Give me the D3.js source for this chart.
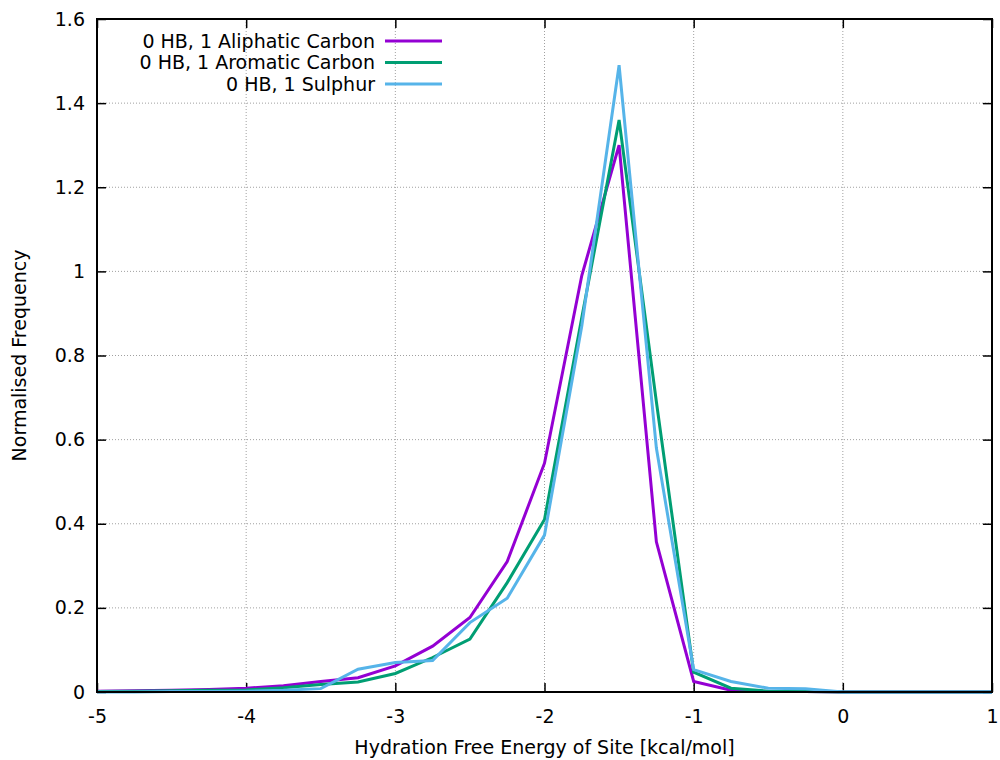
<!DOCTYPE html>
<html>
<head>
<meta charset="utf-8">
<script src="https://cdn.jsdelivr.net/npm/d3@7"></script>
<style>
  body { margin: 0; background: #fff; }
  svg { font-family: "DejaVu Sans", sans-serif; }
</style>
</head>
<body>
<div id="chart"></div>
<script>
// Data
const energies = d3.range(-5, 1.001, 0.25);
const aliphatic = [0.002, 0.003, 0.004, 0.006, 0.009, 0.015, 0.025, 0.034, 0.062, 0.109, 0.177, 0.31, 0.544, 0.99, 1.30, 0.357, 0.025, 0.004, 0.001, 0.001, 0, 0, 0, 0, 0];
const aromatic  = [0.001, 0.002, 0.003, 0.004, 0.005, 0.01, 0.018, 0.024, 0.044, 0.082, 0.126, 0.26, 0.41, 0.89, 1.36, 0.69, 0.047, 0.009, 0.002, 0.001, 0, 0, 0, 0, 0];
const sulphur   = [0, 0, 0.001, 0.001, 0.002, 0.004, 0.008, 0.054, 0.07, 0.075, 0.165, 0.223, 0.373, 0.87, 1.49, 0.58, 0.053, 0.025, 0.009, 0.008, 0, 0, 0, 0, 0];
const seriesNames = ["0 HB, 1 Aliphatic Carbon", "0 HB, 1 Aromatic Carbon", "0 HB, 1 Sulphur"];
const seriesColors = ["#9400d3", "#009e73", "#56b4e9"];
const xTicks = [-5, -4, -3, -2, -1, 0, 1];
const yTicks = [0, 0.2, 0.4, 0.6, 0.8, 1, 1.2, 1.4, 1.6];

const width = 1000, height = 760;
const margin = { top: 19, right: 8, bottom: 68, left: 97 };
const chartWidth = width - margin.left - margin.right;
const chartHeight = height - margin.top - margin.bottom;
const fontSize = 19;

const svg = d3.select("#chart").append("svg")
  .attr("width", width)
  .attr("height", height);

const g = svg.append("g")
  .attr("transform", `translate(${margin.left},${margin.top})`);

// Scales
const x = d3.scaleLinear().domain([-5, 1]).range([0, chartWidth]);
const y = d3.scaleLinear().domain([0, 1.6]).range([chartHeight, 0]);

// Grid
g.append("g").selectAll("line")
  .data(xTicks.slice(1, -1))
  .join("line")
  .attr("x1", d => x(d)).attr("x2", d => x(d))
  .attr("y1", 0).attr("y2", chartHeight)
  .attr("stroke", "#a0a0a0").attr("stroke-width", 1)
  .attr("stroke-dasharray", "1,2");

g.append("g").selectAll("line")
  .data(yTicks.slice(1, -1))
  .join("line")
  .attr("x1", 0).attr("x2", chartWidth)
  .attr("y1", d => y(d)).attr("y2", d => y(d))
  .attr("stroke", "#a0a0a0").attr("stroke-width", 1)
  .attr("stroke-dasharray", "1,2");

// Axes (ticks inward, mirrored)
const tickLen = 9;
const axisStyle = sel => {
  sel.select(".domain").remove();
  sel.selectAll("text").attr("font-size", fontSize).attr("fill", "#000")
    .attr("font-family", "DejaVu Sans, sans-serif");
  sel.selectAll("line").attr("stroke", "#000").attr("stroke-width", 1.5);
};

g.append("g")
  .attr("transform", `translate(0,${chartHeight})`)
  .call(d3.axisBottom(x).tickValues(xTicks).tickFormat(d3.format("d"))
    .tickSizeInner(-tickLen).tickSizeOuter(0).tickPadding(18))
  .call(axisStyle)
  .call(a => a.selectAll("text").text(d => d < 0 ? "-" + Math.abs(d) : d));

g.append("g")
  .call(d3.axisTop(x).tickValues(xTicks).tickFormat("")
    .tickSizeInner(-tickLen).tickSizeOuter(0))
  .call(axisStyle);

g.append("g")
  .call(d3.axisLeft(y).tickValues(yTicks).tickFormat(d => d)
    .tickSizeInner(-tickLen).tickSizeOuter(0).tickPadding(12))
  .call(axisStyle);

g.append("g")
  .attr("transform", `translate(${chartWidth},0)`)
  .call(d3.axisRight(y).tickValues(yTicks).tickFormat("")
    .tickSizeInner(-tickLen).tickSizeOuter(0))
  .call(axisStyle);

// Lines
const line = d3.line().x(d => x(d[0])).y(d => y(d[1]));
[aliphatic, aromatic, sulphur].forEach((vals, i) => {
  g.append("path")
    .datum(energies.map((e, j) => [e, vals[j]]))
    .attr("fill", "none")
    .attr("stroke", seriesColors[i])
    .attr("stroke-width", 3)
    .attr("stroke-linejoin", "miter")
    .attr("d", line);
});

// Border
g.append("rect")
  .attr("width", chartWidth).attr("height", chartHeight)
  .attr("fill", "none").attr("stroke", "#000").attr("stroke-width", 2);

// Legend
const legend = g.append("g").attr("transform", "translate(0,22)");
seriesNames.forEach((name, i) => {
  const row = legend.append("g").attr("transform", `translate(0,${i * 21.5})`);
  row.append("text")
    .attr("x", 278).attr("y", 0).attr("dy", "0.35em")
    .attr("text-anchor", "end").attr("font-size", fontSize)
    .text(name);
  row.append("line")
    .attr("x1", 288).attr("x2", 345).attr("y1", 0).attr("y2", 0)
    .attr("stroke", seriesColors[i]).attr("stroke-width", 3);
});

// X Axis Label
svg.append("text")
  .attr("x", margin.left + chartWidth / 2)
  .attr("y", 754)
  .attr("text-anchor", "middle")
  .attr("font-size", fontSize)
  .text("Hydration Free Energy of Site [kcal/mol]");

// Y Axis Label
svg.append("text")
  .attr("transform", "rotate(-90)")
  .attr("x", -(margin.top + chartHeight / 2))
  .attr("y", 26)
  .attr("text-anchor", "middle")
  .attr("font-size", fontSize)
  .text("Normalised Frequency");
</script>
</body>
</html>
